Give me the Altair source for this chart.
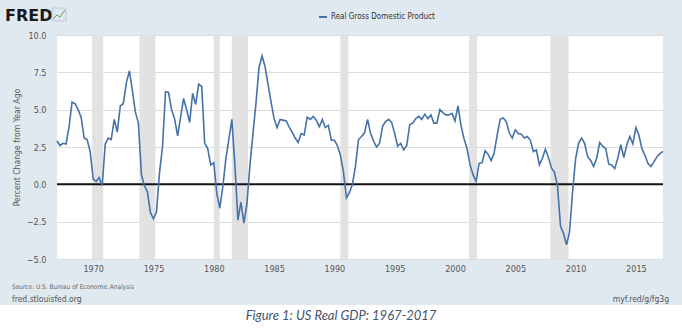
import altair as alt
import pandas as pd

# Quarterly real GDP, percent change from year ago, 1967Q1 - 2017Q2
start_quarter = "1967-01-01"
gdp_pct = [
    2.9, 2.6, 2.75, 2.7,      # 1967
    3.85, 5.5, 5.4, 5.0,      # 1968
    4.5, 3.1, 3.0, 2.2,       # 1969
    0.35, 0.2, 0.45, -0.1,    # 1970
    2.7, 3.1, 3.0, 4.35,      # 1971
    3.5, 5.25, 5.4, 6.8,      # 1972
    7.6, 6.3, 4.85, 4.1,      # 1973
    0.65, -0.1, -0.5, -1.9,   # 1974
    -2.3, -1.85, 0.75, 2.5,   # 1975
    6.2, 6.15, 5.0, 4.4,      # 1976
    3.25, 4.5, 5.75, 5.0,     # 1977
    4.15, 6.1, 5.35, 6.7,     # 1978
    6.55, 2.75, 2.4, 1.3,     # 1979
    1.45, -0.6, -1.6, -0.15,  # 1980
    1.7, 3.0, 4.35, 1.3,      # 1981
    -2.4, -1.2, -2.6, -1.3,   # 1982
    1.3, 3.4, 5.4, 7.8,       # 1983
    8.6, 7.9, 6.7, 5.5,       # 1984
    4.4, 3.8, 4.35, 4.3,      # 1985
    4.25, 3.85, 3.5, 3.1,     # 1986
    2.8, 3.4, 3.3, 4.5,       # 1987
    4.35, 4.55, 4.3, 3.86,    # 1988
    4.35, 3.8, 3.95, 2.95,    # 1989
    2.95, 2.6, 1.95, 0.85,    # 1990
    -0.9, -0.55, 0.0, 1.2,    # 1991
    3.0, 3.2, 3.45, 4.35,     # 1992
    3.4, 2.9, 2.5, 2.75,      # 1993
    3.9, 4.2, 4.35, 4.15,     # 1994
    3.4, 2.55, 2.75, 2.3,     # 1995
    2.6, 4.0, 4.1, 4.4,       # 1996
    4.55, 4.35, 4.7, 4.4,     # 1997
    4.65, 4.1, 4.1, 5.0,      # 1998
    4.8, 4.65, 4.65, 4.75,    # 1999
    4.25, 5.25, 3.95, 3.05,   # 2000
    2.4, 1.3, 0.65, 0.2,      # 2001
    1.4, 1.45, 2.25, 2.0,     # 2002
    1.6, 2.1, 3.3, 4.35,      # 2003
    4.45, 4.2, 3.45, 3.1,     # 2004
    3.65, 3.4, 3.35, 3.1,     # 2005
    3.2, 2.95, 2.2, 2.3,      # 2006
    1.3, 1.75, 2.35, 1.8,     # 2007
    1.1, 0.8, -0.1, -2.8,     # 2008
    -3.3, -4.05, -3.2, -0.5,  # 2009
    1.7, 2.75, 3.1, 2.75,     # 2010
    1.85, 1.6, 1.2, 1.75,     # 2011
    2.8, 2.55, 2.4, 1.35,     # 2012
    1.3, 1.05, 1.75, 2.65,    # 2013
    1.8, 2.65, 3.2, 2.7,      # 2014
    3.8, 3.3, 2.4, 1.95,      # 2015
    1.4, 1.2, 1.5, 1.85,      # 2016
    2.05, 2.2,                # 2017
]

rec_start = ["1969-12-01", "1973-11-01", "1980-01-01", "1981-07-01",
             "1990-07-01", "2001-03-01", "2007-12-01"]
rec_end = ["1970-11-01", "1975-03-01", "1980-07-01", "1982-11-01",
           "1991-03-01", "2001-11-01", "2009-06-01"]

y_ticks = [-5.0, -2.5, 0.0, 2.5, 5.0, 7.5, 10.0]
x_tick_years = [1970, 1975, 1980, 1985, 1990, 1995, 2000, 2005, 2010, 2015]
zero_level = [0]

series_name = "Real Gross Domestic Product"
y_title = "Percent Change from Year Ago"
source_text = "Source: U.S. Bureau of Economic Analysis"
site_text = "fred.stlouisfed.org"
short_url = "myf.red/g/fg3g"
caption = "Figure 1: US Real GDP: 1967-2017"

dates = pd.date_range(start_quarter, periods=len(gdp_pct), freq="QS")
df = pd.DataFrame({"date": dates.strftime("%Y-%m-%d"), "value": gdp_pct})
rec = pd.DataFrame({"start": rec_start, "end": rec_end})
zdf = pd.DataFrame({"value": zero_level})
one = pd.DataFrame({"a": [0]})

W, H = 606, 224
LINE_BLUE = "#4572a7"
FONT = ("Liberation Sans Narrow, Arial Narrow, DejaVu Sans Condensed, "
        "Roboto Condensed, Liberation Sans, sans-serif")

x_scale = alt.Scale(domain=[alt.DateTime(year=1967, month=1, date=1),
                            alt.DateTime(year=2017, month=4, date=1)])
y_scale = alt.Scale(domain=[-5, 10], nice=False, zero=False)

x_axis = alt.Axis(
    values=[alt.DateTime(year=y, month=1, date=1) for y in x_tick_years],
    format="%Y", title=None, grid=False, domain=False, ticks=False,
    labelPadding=5, labelFontSize=9, labelColor="#555555", labelFont=FONT,
    labelOverlap=False,
)
y_axis = alt.Axis(
    values=y_ticks, format=".1f", title=y_title, grid=True,
    gridColor="#dcdcdc", gridWidth=1, domain=False, ticks=False,
    labelPadding=11, labelFontSize=9, labelColor="#555555", labelFont=FONT,
    labelOverlap=False,
    titleFont=FONT, titleFontSize=8.6, titleFontWeight="normal",
    titleColor="#555555", titlePadding=5,
)

X = alt.X("date:T", scale=x_scale, axis=x_axis)
Y = alt.Y("value:Q", scale=y_scale, axis=y_axis)

bands = alt.Chart(rec).mark_rect(color="#e2e2e2").encode(
    x=alt.X("start:T", scale=x_scale, axis=x_axis),
    x2="end:T",
    y=alt.value(0), y2=alt.value(H),
)

grid_holder = alt.Chart(df).mark_point(opacity=0).encode(x=X, y=Y)

zero = alt.Chart(zdf).mark_rule(color="#111111", strokeWidth=2).encode(y=Y)

line = alt.Chart(df).mark_line(color=LINE_BLUE, strokeWidth=1.6).encode(
    x=X, y=Y
)

# decorations (plot origin at page pixel 57, 35)
strip = alt.Chart(one).mark_rect(color="white").encode(
    x=alt.value(-57), x2=alt.value(625), y=alt.value(270), y2=alt.value(293)
)
logo = alt.Chart(one).mark_text(
    text="FRED", align="left", baseline="middle", fontSize=16,
    fontWeight="bold", font="DejaVu Sans", color="#1a1a1a"
).encode(x=alt.value(-52), y=alt.value(-19))
icon_box = alt.Chart(one).mark_rect(
    fill="#dfe7ee", stroke="#b5c3d1", strokeWidth=0.8
).encode(x=alt.value(-5), x2=alt.value(9), y=alt.value(-27), y2=alt.value(-14))
icon_seg = alt.Chart(pd.DataFrame({
    "x1": [-4, 0, 3], "y1": [-16, -20, -18],
    "x2": [0, 3, 8], "y2": [-20, -18, -25]})).mark_rule(
    color="#7a9a5a", strokeWidth=1
).encode(x=alt.X("x1:Q", scale=None), y=alt.Y("y1:Q", scale=None),
         x2="x2:Q", y2="y2:Q")
legend_dash = alt.Chart(one).mark_rule(color=LINE_BLUE, strokeWidth=2).encode(
    x=alt.value(262), x2=alt.value(270), y=alt.value(-18)
)
legend_text = alt.Chart(one).mark_text(
    text=series_name, align="left", baseline="middle", fontSize=8,
    font=FONT, color="#333333"
).encode(x=alt.value(274), y=alt.value(-18))
src = alt.Chart(one).mark_text(
    text=source_text, align="left", baseline="middle", fontSize=6.5,
    font=FONT, color="#666666"
).encode(x=alt.value(-45), y=alt.value(252))
site = alt.Chart(one).mark_text(
    text=site_text, align="left", baseline="middle", fontSize=8.5,
    font=FONT, color="#555555"
).encode(x=alt.value(-45), y=alt.value(264))
url = alt.Chart(one).mark_text(
    text=short_url, align="right", baseline="middle", fontSize=8.5,
    font=FONT, color="#555555"
).encode(x=alt.value(612), y=alt.value(264))
cap = alt.Chart(one).mark_text(
    text=caption, align="center", baseline="middle", fontSize=13,
    font="Lato", fontStyle="italic", color="#44546a"
).encode(x=alt.value(284), y=alt.value(281))

chart = alt.layer(
    bands, grid_holder, zero, line, strip, logo, icon_box, icon_seg,
    legend_dash, legend_text, src, site, url, cap
).properties(
    width=W, height=H,
    autosize=alt.AutoSizeParams(type="none"),
    padding={"left": 57, "top": 35, "right": 19, "bottom": 69},
    background="#e1e9f0",
).configure_view(fill="white", strokeWidth=0)

chart.save("out.html", embed_options={"renderer": "svg", "actions": False})
